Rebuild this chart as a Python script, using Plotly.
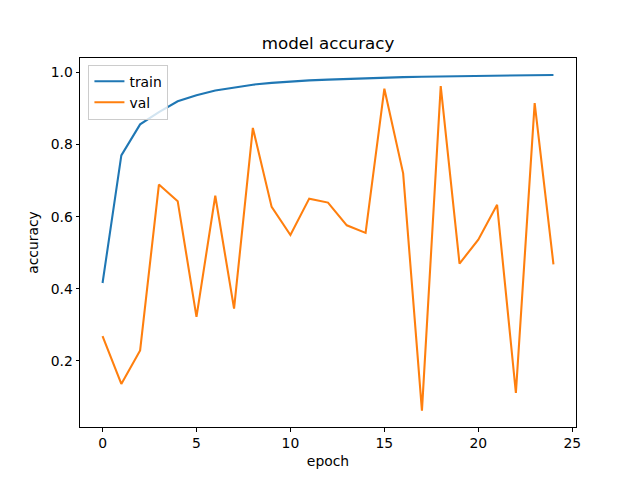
import plotly.graph_objects as go

epochs = list(range(25))
train_acc = [0.416, 0.770, 0.856, 0.890, 0.920, 0.937, 0.950, 0.959, 0.966, 0.971,
             0.975, 0.978, 0.980, 0.982, 0.984, 0.985, 0.987, 0.988, 0.989, 0.990,
             0.991, 0.991, 0.992, 0.993, 0.993]
val_acc = [0.269, 0.136, 0.229, 0.689, 0.643, 0.322, 0.658, 0.345, 0.846, 0.627,
           0.549, 0.650, 0.639, 0.576, 0.555, 0.955, 0.720, 0.062, 0.962, 0.470,
           0.536, 0.633, 0.111, 0.915, 0.468]
x_ticks = [0, 5, 10, 15, 20, 25]
y_ticks = [0.2, 0.4, 0.6, 0.8, 1.0]

font = "DejaVu Sans"
fig = go.Figure()
fig.add_trace(go.Scatter(x=epochs, y=train_acc, mode="lines", name="train",
                         line=dict(color="#1f77b4", width=2.08)))
fig.add_trace(go.Scatter(x=epochs, y=val_acc, mode="lines", name="val",
                         line=dict(color="#ff7f0e", width=2.08)))

axis_common = dict(showline=True, linecolor="black", linewidth=1, mirror=True,
                   ticks="outside", ticklen=3.5, tickwidth=0.8, tickcolor="black",
                   showgrid=False, zeroline=False,
                   tickfont=dict(family=font, size=13.9, color="black"))
fig.update_layout(
    width=640, height=480,
    margin=dict(l=80, r=64, t=57.6, b=52.8),
    paper_bgcolor="white", plot_bgcolor="white",
    title=dict(text="model accuracy", x=0.5, xanchor="center", y=1 - 43/480, yanchor="middle",
               xref="paper",
               font=dict(family=font, size=16.7, color="black")),
    xaxis=dict(range=[-1.2, 25.2], tickvals=x_ticks, ticktext=[str(t) for t in x_ticks],
               title=dict(text="epoch", font=dict(family=font, size=13.9, color="black"), standoff=6),
               **axis_common),
    yaxis=dict(range=[0.0167, 1.040], tickvals=y_ticks, ticktext=[f"{t:.1f}" for t in y_ticks],
               title=dict(text="accuracy", font=dict(family=font, size=13.9, color="black"), standoff=8),
               **axis_common),
    legend=dict(x=0.017, y=0.982, xanchor="left", yanchor="top",
                bgcolor="rgba(255,255,255,0.8)", bordercolor="#cccccc", borderwidth=1,
                font=dict(family=font, size=13.9, color="black"), tracegroupgap=0),
    showlegend=True,
)
fig.write_html("out.html")
